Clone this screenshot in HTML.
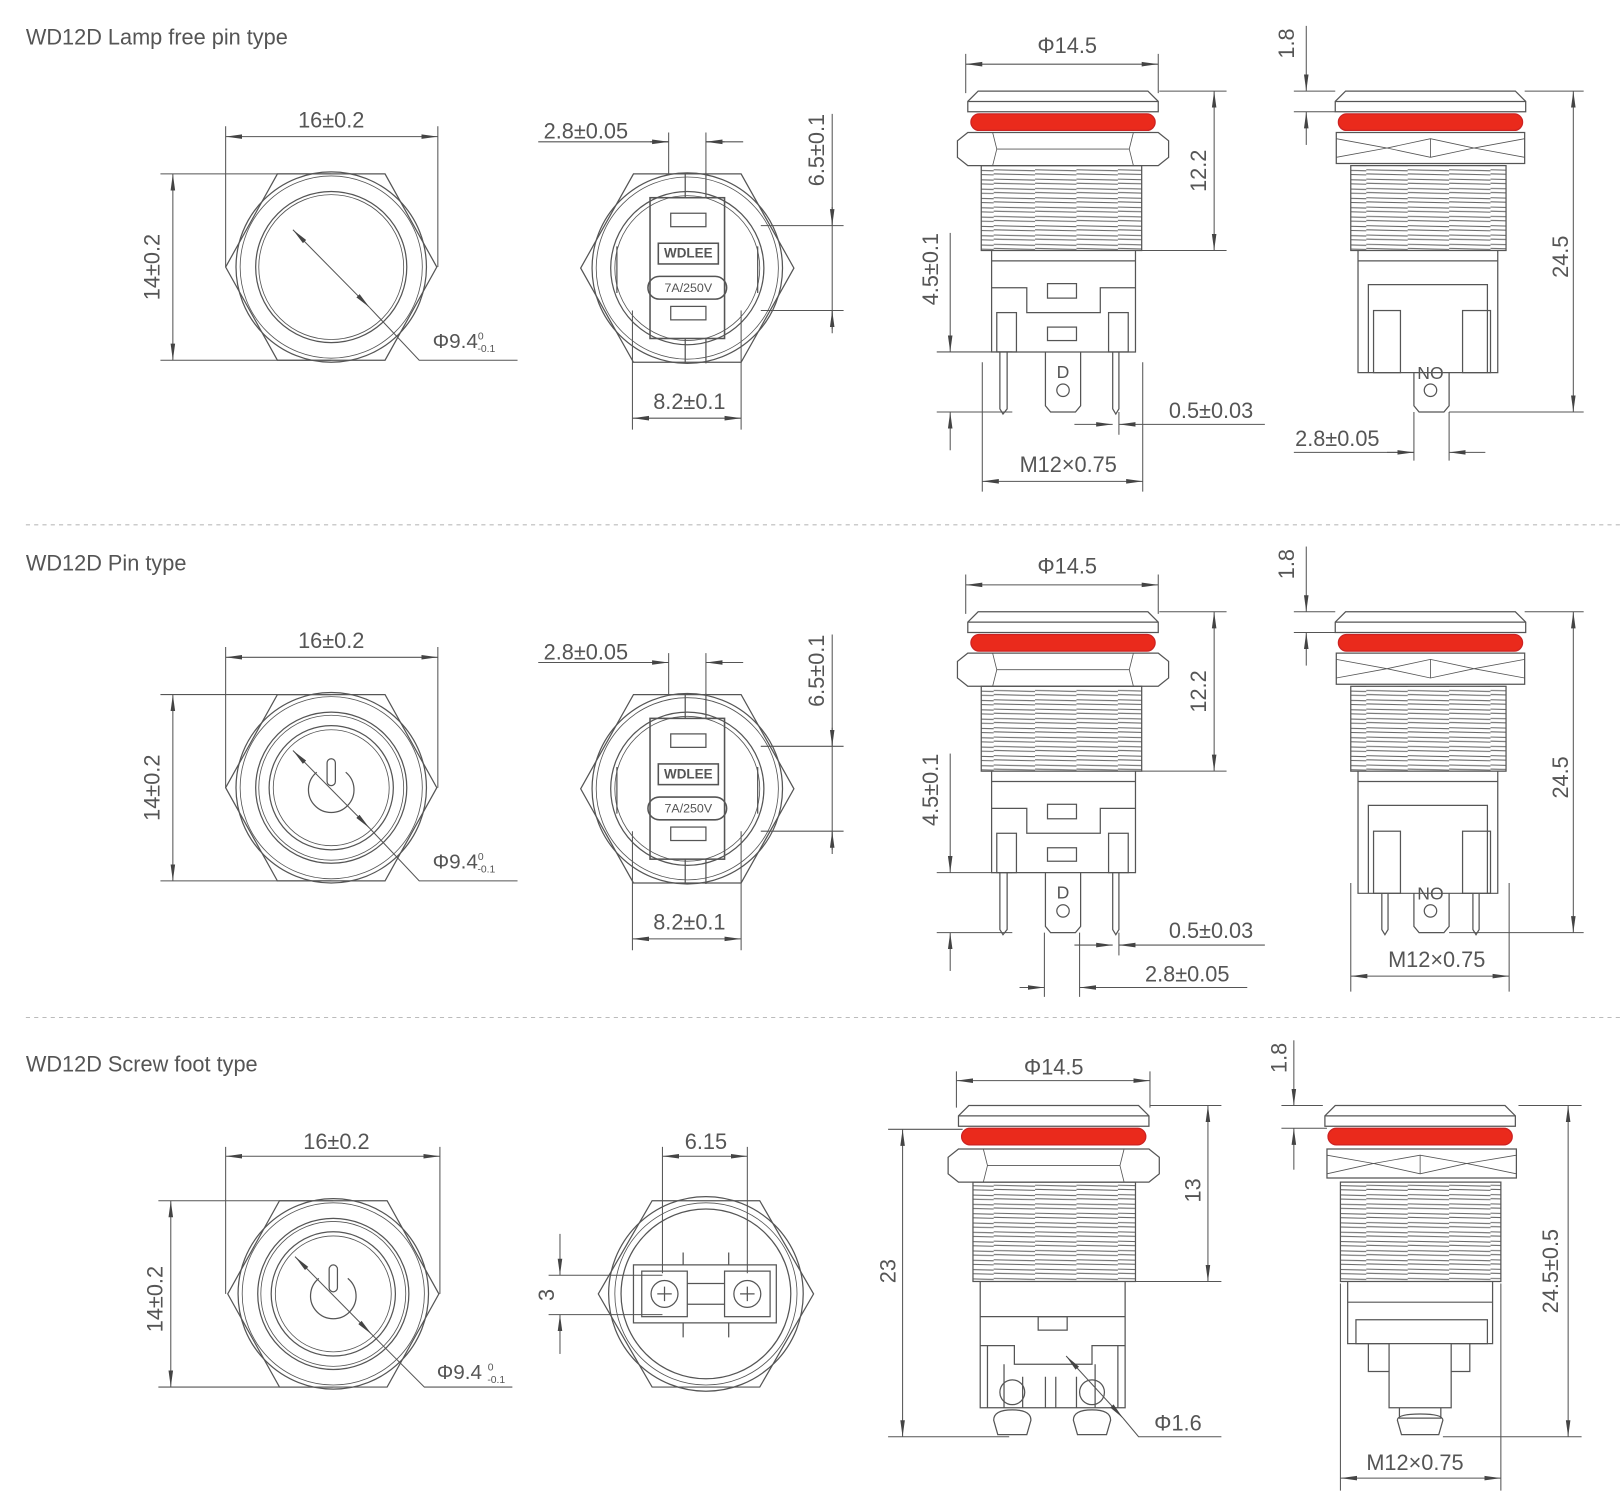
<!DOCTYPE html>
<html><head><meta charset="utf-8"><style>
html,body{margin:0;padding:0;background:#fff;}
svg{display:block;}
text{font-family:"Liberation Sans",sans-serif;fill:#555;}
</style></head><body>
<svg width="1623" height="1503" viewBox="0 0 1568 1452" preserveAspectRatio="none" xmlns="http://www.w3.org/2000/svg">
<defs>
<marker id="a" viewBox="0 0 16 6" refX="16" refY="3" markerWidth="16" markerHeight="6" markerUnits="userSpaceOnUse" orient="auto-start-reverse"><path d="M0,0.8 L16,3 L0,5.2z" fill="#444"/></marker>
<pattern id="th" width="40" height="9" patternUnits="userSpaceOnUse"><path d="M0,2 L40,3 M0,6 L40,7" stroke="#666" stroke-width="1"/></pattern>
<g id="cap" fill="none" stroke="#555" stroke-width="1.2">
 <path d="M-82,0 L82,0 L92,10 L92,20 L-92,20 L-92,10 Z"/><path d="M-92,10 L92,10"/>
 <rect x="-89" y="22" width="178" height="16" rx="8" fill="#ea2a1c" stroke="#c22"/>
</g>
<g id="nut1" fill="#fff" stroke="#555" stroke-width="1.2">
 <path d="M-92,40 L92,40 L102,48 L102,64 L92,72 L-92,72 L-102,64 L-102,48 Z"/>
 <path d="M-68,40 L-64,56 L-68,72 M68,40 L64,56 L68,72 M-64,56 L64,56" stroke-width="0.8"/>
</g>
<g id="front1" fill="none" stroke="#555" stroke-width="1.2">
 <path d="M-102,0 L-52,-90 L52,-90 L102,0 L52,90 L-52,90 Z"/>
 <circle r="92"/><circle r="88" stroke-width="0.8"/><circle r="73"/><circle r="70" stroke-width="0.8"/>
</g>
<g id="front2" fill="none" stroke="#555" stroke-width="1.2">
 <path d="M-103,0 L-52,-91 L52,-91 L103,0 L52,91 L-52,91 Z"/>
 <circle r="92"/><circle r="88" stroke-width="0.8"/><circle r="74"/><circle r="70" stroke-width="0.8"/>
 <rect x="-36" y="-68" width="72" height="136" stroke-width="1.5"/>
 <rect x="-16" y="-53" width="34" height="13"/><rect x="-16" y="37" width="34" height="13"/>
 <rect x="-28" y="-24" width="58" height="20" stroke-width="1.5"/>
 <rect x="-38" y="8" width="76" height="22" rx="11" stroke-width="1.5"/>
 <path d="M-68,-21 L-68,24 M68,-21 L68,24 M-2,-92 L-2,-68 M18,-92 L18,-68 M-2,68 L-2,92 M18,68 L18,92"/>
</g>
</defs>
<rect width="1568" height="1452" fill="#fff"/>

<g stroke="#555" stroke-width="1" fill="none">
<!-- ROW template repeated with translate -->
</g>

<!-- ===== ROW 1 ===== -->
<text x="25" y="43" font-size="21">WD12D Lamp free pin type</text>
<g id="row1">
<use href="#front1" x="320" y="258"/>
<g stroke="#555" stroke-width="1" fill="none">
 <path d="M218,122 V258 M423,122 V258" /><path d="M218,132 H423" marker-start="url(#a)" marker-end="url(#a)"/>
 <path d="M155,168 H320 M155,348 H320"/><path d="M167,168 V348" marker-start="url(#a)" marker-end="url(#a)"/>
 <path d="M283,222 L357,297" marker-start="url(#a)" marker-end="url(#a)"/><path d="M357,297 L405,348 H500"/>
</g>
</g>
<text x="320" y="123" font-size="21" text-anchor="middle">16±0.2</text>
<text transform="translate(154,258) rotate(-90)" font-size="21" text-anchor="middle">14±0.2</text>
<text x="418" y="336" font-size="20">Φ9.4<tspan font-size="10" dy="-8">0</tspan><tspan font-size="10" dx="-6" dy="12">-0.1</tspan></text>

<use href="#front2" x="664" y="259"/>
<text x="665" y="249" font-size="13" font-weight="bold" text-anchor="middle">WDLEE</text>
<text x="665" y="282" font-size="12" text-anchor="middle">7A/250V</text>
<g stroke="#555" stroke-width="1" fill="none">
 <path d="M646,128 V168 M682,128 V168"/><path d="M520,137 H646 M682,137 H718"/><path d="M628,137 H646" marker-end="url(#a)"/><path d="M700,137 H682" marker-end="url(#a)"/>
 <path d="M735,218 H815 M735,300 H815"/><path d="M804,110 V322"/><path d="M804,200 V218" marker-end="url(#a)"/><path d="M804,318 V300" marker-end="url(#a)"/>
 <path d="M611,300 V415 M716,300 V415"/><path d="M611,404 H716" marker-start="url(#a)" marker-end="url(#a)"/>
</g>
<text x="566" y="134" font-size="21" text-anchor="middle">2.8±0.05</text>
<text transform="translate(796,145) rotate(-90)" font-size="21" text-anchor="middle">6.5±0.1</text>
<text x="666" y="395" font-size="21" text-anchor="middle">8.2±0.1</text>

<!-- side view A row1 -->
<g id="sideA">
<use href="#cap" x="1027" y="88"/>
<use href="#nut1" x="1027" y="88"/>
<g stroke="#555" stroke-width="1.2" fill="none">
 <rect x="948" y="160" width="155" height="82" fill="url(#th)"/>
 <path d="M958,242 V340 H1097 V242 M958,252 H1097 M958,278 H992 V302 H1063 V278 H1097"/>
 <rect x="1012" y="274" width="28" height="14"/><rect x="1012" y="316" width="28" height="13"/>
 <rect x="963" y="302" width="19" height="38"/><rect x="1071" y="302" width="19" height="38"/>
 <path d="M966,340 V395 L969,400 L973,395 V340 M1075,340 V395 L1078,400 L1081,395 V340"/>
 <path d="M1010,340 V392 L1015,398 H1039 L1044,392 V340"/><circle cx="1027" cy="377" r="6"/>
</g>
<text x="1027" y="365" font-size="17" text-anchor="middle">D</text>
</g>
<g stroke="#555" stroke-width="1" fill="none">
 <path d="M933,52 V90 M1119,52 V90"/><path d="M933,62 H1119" marker-start="url(#a)" marker-end="url(#a)"/>
 <path d="M1120,88 H1185 M1103,242 H1185"/><path d="M1173,88 V242" marker-start="url(#a)" marker-end="url(#a)"/>
 <path d="M905,340 H978 M905,398 H978"/><path d="M918,225 V340" marker-end="url(#a)"/><path d="M918,435 V398" marker-end="url(#a)"/>
 <path d="M1038,410 H1075" marker-end="url(#a)"/><path d="M1222,410 H1081" marker-end="url(#a)"/><path d="M1081,398 V420"/>
 <path d="M949,350 V475 M1104,350 V475"/><path d="M949,465 H1104" marker-start="url(#a)" marker-end="url(#a)"/>
</g>
<text x="1031" y="51" font-size="21" text-anchor="middle">Φ14.5</text>
<text transform="translate(1165,165) rotate(-90)" font-size="21" text-anchor="middle">12.2</text>
<text transform="translate(906,260) rotate(-90)" font-size="21" text-anchor="middle">4.5±0.1</text>
<text x="1170" y="404" font-size="21" text-anchor="middle">0.5±0.03</text>
<text x="1032" y="456" font-size="21" text-anchor="middle">M12×0.75</text>

<!-- side view B row1 -->
<g id="sideB">
<use href="#cap" x="1382" y="88"/>
<g stroke="#555" stroke-width="1.2" fill="#fff">
 <path d="M1291,128 H1473 V158 H1291 Z"/><path d="M1291,134 L1340,143 L1382,134 L1424,143 L1473,134 M1291,152 L1340,143 L1382,152 L1424,143 L1473,152 M1382,134 V152" fill="none" stroke-width="0.8"/>
 <rect x="1305" y="160" width="150" height="82" fill="url(#th)"/>
 <path d="M1312,242 V360 H1447 V242 M1312,252 H1447 M1322,360 V275 H1437 V360" fill="none"/>
 <rect x="1327" y="300" width="26" height="60" fill="none"/><rect x="1413" y="300" width="27" height="60" fill="none"/>
 <path d="M1366,360 V392 L1371,398 H1395 L1400,392 V360" fill="none"/><circle cx="1382" cy="377" r="6" fill="none"/>
</g>
<text x="1382" y="366" font-size="17" text-anchor="middle">NO</text>
</g>
<g stroke="#555" stroke-width="1" fill="none">
 <path d="M1250,88 H1290 M1250,108 H1290"/><path d="M1262,25 V88" marker-end="url(#a)"/><path d="M1262,140 V108" marker-end="url(#a)"/>
 <path d="M1473,88 H1530 M1400,398 H1530"/><path d="M1520,88 V398" marker-start="url(#a)" marker-end="url(#a)"/>
</g>
<text transform="translate(1250,42) rotate(-90)" font-size="21" text-anchor="middle">1.8</text>
<text transform="translate(1515,248) rotate(-90)" font-size="21" text-anchor="middle">24.5</text>

<g stroke="#555" stroke-width="1" fill="none">
 <path d="M1366,398 V445 M1400,398 V445"/><path d="M1250,437 H1366" /><path d="M1340,437 H1366" marker-end="url(#a)"/><path d="M1435,437 H1400" marker-end="url(#a)"/>
</g>
<text x="1292" y="431" font-size="21" text-anchor="middle">2.8±0.05</text>

<path d="M25,507 H1568" stroke="#bbb" stroke-dasharray="4,4"/>

<!-- ===== ROW 2 ===== -->
<text x="25" y="551" font-size="21">WD12D Pin type</text>
<g transform="translate(0,503)">
<use href="#row1"/>
<g fill="none" stroke="#555" stroke-width="1.2">
 <circle cx="320" cy="258" r="60"/><circle cx="320" cy="258" r="56" stroke-width="0.8"/>
 <path d="M306,243 A22,22 0 1 0 334,243"/><rect x="316" y="230" width="8" height="26" rx="4"/>
</g>
<use href="#front2" x="664" y="259"/>
<text x="665" y="249" font-size="13" font-weight="bold" text-anchor="middle">WDLEE</text>
<text x="665" y="282" font-size="12" text-anchor="middle">7A/250V</text>
<g stroke="#555" stroke-width="1" fill="none">
 <path d="M646,128 V168 M682,128 V168"/><path d="M520,137 H646 M682,137 H718"/><path d="M628,137 H646" marker-end="url(#a)"/><path d="M700,137 H682" marker-end="url(#a)"/>
 <path d="M735,218 H815 M735,300 H815"/><path d="M804,110 V322"/><path d="M804,200 V218" marker-end="url(#a)"/><path d="M804,318 V300" marker-end="url(#a)"/>
 <path d="M611,300 V415 M716,300 V415"/><path d="M611,404 H716" marker-start="url(#a)" marker-end="url(#a)"/>
</g>
<use href="#sideA"/>
<g stroke="#555" stroke-width="1" fill="none">
 <path d="M933,52 V90 M1119,52 V90"/><path d="M933,62 H1119" marker-start="url(#a)" marker-end="url(#a)"/>
 <path d="M1120,88 H1185 M1103,242 H1185"/><path d="M1173,88 V242" marker-start="url(#a)" marker-end="url(#a)"/>
 <path d="M905,340 H978 M905,398 H978"/><path d="M918,225 V340" marker-end="url(#a)"/><path d="M918,435 V398" marker-end="url(#a)"/>
 <path d="M1038,410 H1075" marker-end="url(#a)"/><path d="M1222,410 H1081" marker-end="url(#a)"/><path d="M1081,398 V420"/>
 <path d="M1009,398 V460 M1043,398 V460"/><path d="M985,451 H1009" marker-end="url(#a)"/><path d="M1205,451 H1043" marker-end="url(#a)"/>
</g>
<use href="#sideB"/>
<g stroke="#555" stroke-width="1.2" fill="none">
 <path d="M1335,360 V395 L1338,400 L1341,395 V360 M1423,360 V395 L1426,400 L1429,395 V360"/>
</g>
<g stroke="#555" stroke-width="1" fill="none">
 <path d="M1250,88 H1290 M1250,108 H1290"/><path d="M1262,25 V88" marker-end="url(#a)"/><path d="M1262,140 V108" marker-end="url(#a)"/>
 <path d="M1473,88 H1530 M1400,398 H1530"/><path d="M1520,88 V398" marker-start="url(#a)" marker-end="url(#a)"/>
 <path d="M1305,350 V455 M1458,350 V455"/><path d="M1305,440 H1458" marker-start="url(#a)" marker-end="url(#a)"/>
</g>
</g>
<g font-size="21">
<text x="320" y="626" text-anchor="middle">16±0.2</text>
<text transform="translate(154,761) rotate(-90)" text-anchor="middle">14±0.2</text>
<text x="418" y="839" font-size="20">Φ9.4<tspan font-size="10" dy="-8">0</tspan><tspan font-size="10" dx="-6" dy="12">-0.1</tspan></text>
<text x="566" y="637" text-anchor="middle">2.8±0.05</text>
<text transform="translate(796,648) rotate(-90)" text-anchor="middle">6.5±0.1</text>
<text x="666" y="898" text-anchor="middle">8.2±0.1</text>
<text x="1031" y="554" text-anchor="middle">Φ14.5</text>
<text transform="translate(1165,668) rotate(-90)" text-anchor="middle">12.2</text>
<text transform="translate(906,763) rotate(-90)" text-anchor="middle">4.5±0.1</text>
<text x="1170" y="906" text-anchor="middle">0.5±0.03</text>
<text x="1147" y="948" text-anchor="middle">2.8±0.05</text>
<text transform="translate(1250,545) rotate(-90)" text-anchor="middle">1.8</text>
<text transform="translate(1515,751) rotate(-90)" text-anchor="middle">24.5</text>
<text x="1388" y="934" text-anchor="middle">M12×0.75</text>
</g>

<path d="M25,983 H1568" stroke="#bbb" stroke-dasharray="4,4"/>

<!-- ===== ROW 3 ===== -->
<text x="25" y="1035" font-size="21">WD12D Screw foot type</text>
<use href="#front1" x="322" y="1250"/>
<g fill="none" stroke="#555" stroke-width="1.2">
 <circle cx="322" cy="1250" r="60"/><circle cx="322" cy="1250" r="56" stroke-width="0.8"/>
 <path d="M308,1235 A22,22 0 1 0 336,1235"/><rect x="318" y="1222" width="8" height="26" rx="4"/>
</g>
<g stroke="#555" stroke-width="1" fill="none">
 <path d="M218,1108 V1250 M425,1108 V1250"/><path d="M218,1117 H425" marker-start="url(#a)" marker-end="url(#a)"/>
 <path d="M153,1160 H322 M153,1340 H322"/><path d="M165,1160 V1340" marker-start="url(#a)" marker-end="url(#a)"/>
 <path d="M285,1214 L359,1289" marker-start="url(#a)" marker-end="url(#a)"/><path d="M359,1289 L410,1340 H495"/>
</g>
<g fill="none" stroke="#555" stroke-width="1.2">
 <path d="M578,1250 L630,1160 L734,1160 L786,1250 L734,1340 L630,1340 Z"/>
 <circle cx="682" cy="1250" r="94"/><circle cx="682" cy="1250" r="88" stroke-width="0.8"/><circle cx="682" cy="1250" r="82"/>
 <path d="M612,1222 H750 V1278 H612 Z M660,1222 V1210 M704,1222 V1210 M660,1278 V1292 M704,1278 V1292"/>
 <rect x="620" y="1228" width="44" height="44"/><circle cx="642" cy="1250" r="13"/><path d="M635,1250 H649 M642,1243 V1257"/>
 <rect x="700" y="1228" width="44" height="44"/><circle cx="722" cy="1250" r="13"/><path d="M715,1250 H729 M722,1243 V1257"/>
 <path d="M664,1240 H700 M664,1260 H700"/>
</g>
<g stroke="#555" stroke-width="1" fill="none">
 <path d="M640,1108 V1230 M722,1108 V1230"/><path d="M640,1117 H722" marker-start="url(#a)" marker-end="url(#a)"/>
 <path d="M530,1232 H640 M530,1270 H640"/><path d="M541,1192 V1232" marker-end="url(#a)"/><path d="M541,1308 V1270" marker-end="url(#a)"/>
</g>
<g font-size="21">
<text x="325" y="1110" text-anchor="middle">16±0.2</text>
<text transform="translate(157,1255) rotate(-90)" text-anchor="middle">14±0.2</text>
<text x="422" y="1332" font-size="20">Φ9.4 <tspan font-size="10" dy="-8">0</tspan><tspan font-size="10" dx="-6" dy="12">-0.1</tspan></text>
<text x="682" y="1110" text-anchor="middle">6.15</text>
<text transform="translate(535,1251) rotate(-90)" text-anchor="middle">3</text>
</g>

<!-- side 3A -->
<use href="#cap" x="1018" y="1068"/>
<use href="#nut1" x="1018" y="1070"/>
<g stroke="#555" stroke-width="1.2" fill="none">
 <rect x="940" y="1142" width="157" height="96" fill="url(#th)"/>
 <path d="M947,1238 V1360 H1087 V1238 M947,1272 H1087 M947,1272 V1300 H980 V1318 H1055 V1300 H1087"/>
 <rect x="1003" y="1272" width="28" height="13"/>
 <path d="M954,1300 V1360 M1080,1300 V1360 M970,1318 V1360 M1058,1318 V1360 M988,1330 V1360 M1040,1330 V1360 M1010,1330 V1360 M1020,1330 V1360"/>
 <circle cx="978" cy="1345" r="12"/><circle cx="1055" cy="1345" r="12"/>
 <path d="M960,1372 Q960,1362 978,1362 Q996,1362 996,1372 L992,1386 H964 Z M1037,1372 Q1037,1362 1055,1362 Q1073,1362 1073,1372 L1069,1386 H1041 Z"/>
</g>
<g stroke="#555" stroke-width="1" fill="none">
 <path d="M924,1035 V1070 M1111,1035 V1070"/><path d="M924,1044 H1111" marker-start="url(#a)" marker-end="url(#a)"/>
 <path d="M1111,1068 H1180 M1097,1238 H1180"/><path d="M1167,1068 V1238" marker-start="url(#a)" marker-end="url(#a)"/>
 <path d="M858,1091 H930 M858,1388 H975"/><path d="M872,1091 V1388" marker-start="url(#a)" marker-end="url(#a)"/>
 <path d="M1030,1310 L1085,1370" marker-start="url(#a)" marker-end="url(#a)"/><path d="M1085,1370 L1100,1388 H1180"/>
</g>
<g font-size="21">
<text x="1018" y="1038" text-anchor="middle">Φ14.5</text>
<text transform="translate(1160,1150) rotate(-90)" text-anchor="middle">13</text>
<text transform="translate(865,1228) rotate(-90)" text-anchor="middle">23</text>
<text x="1138" y="1382" text-anchor="middle">Φ1.6</text>
</g>

<!-- side 3B -->
<use href="#cap" x="1372" y="1068"/>
<g stroke="#555" stroke-width="1.2" fill="#fff">
 <path d="M1282,1110 H1465 V1138 H1282 Z"/><path d="M1282,1116 L1327,1124 L1372,1116 L1417,1124 L1465,1116 M1282,1134 L1327,1124 L1372,1134 L1417,1124 L1465,1134 M1372,1116 V1134" fill="none" stroke-width="0.8"/>
 <rect x="1295" y="1142" width="155" height="96" fill="url(#th)"/>
 <path d="M1302,1238 V1298 H1442 V1238 M1302,1258 H1442" fill="none"/>
 <path d="M1310,1275 H1437 V1298 H1402 V1360 H1342 V1298 H1310 Z" fill="none"/>
 <path d="M1322,1298 V1325 H1342 M1402,1325 H1420 V1298" fill="none"/>
 <path d="M1352,1360 V1370 H1392 V1360 M1350,1372 Q1350,1366 1372,1366 Q1394,1366 1394,1372 L1390,1386 H1354 Z" fill="none"/>
</g>
<g stroke="#555" stroke-width="1" fill="none">
 <path d="M1238,1068 H1278 M1238,1090 H1282"/><path d="M1250,1005 V1068" marker-end="url(#a)"/><path d="M1250,1130 V1090" marker-end="url(#a)"/>
 <path d="M1467,1068 H1528 M1394,1388 H1528"/><path d="M1515,1068 V1388" marker-start="url(#a)" marker-end="url(#a)"/>
 <path d="M1295,1240 V1440 M1450,1240 V1440"/><path d="M1295,1428 H1450" marker-start="url(#a)" marker-end="url(#a)"/>
</g>
<g font-size="21">
<text transform="translate(1243,1022) rotate(-90)" text-anchor="middle">1.8</text>
<text transform="translate(1505,1228) rotate(-90)" text-anchor="middle">24.5±0.5</text>
<text x="1367" y="1420" text-anchor="middle">M12×0.75</text>
</g>
</svg>
</body></html>
